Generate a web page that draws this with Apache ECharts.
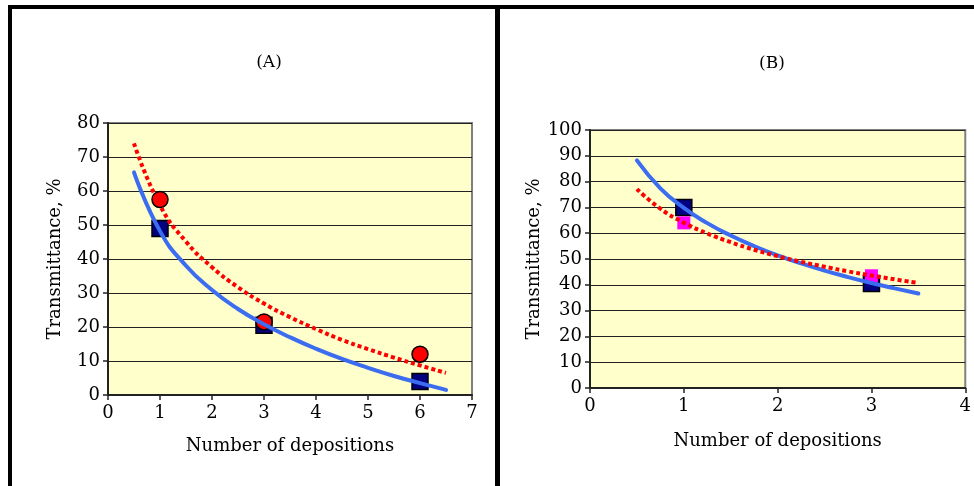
<!DOCTYPE html>
<html><head><meta charset="utf-8">
<script src="https://cdn.jsdelivr.net/npm/echarts@6/dist/echarts.min.js"></script>
<style>html,body{margin:0;padding:0;background:#fff}#c{width:974px;height:486px}</style>
</head><body><div id="c"></div>
<script>
// Panel A data
const A_x = [1, 3, 6];
const A_squares = [49, 20.5, 4];
const A_circles = [57.5, 21.5, 12];
const A_trendX = [0.5, 1, 1.5, 2, 2.5, 3, 3.5, 4, 4.5, 5, 5.5, 6, 6.5];
const A_blueTrend = [65.5, 48.2, 38, 30.9, 25.3, 20.8, 17, 13.6, 10.6, 8, 5.6, 3.5, 1.5];
const A_redTrend = [74, 55.8, 45.1, 37.6, 31.7, 26.9, 22.9, 19.4, 16.2, 13.5, 11, 8.7, 6.5];
// Panel B data
const B_x = [1, 3];
const B_navy = [70, 40.5];
const B_magenta = [64, 43.5];
const B_trendX = [0.5, 0.75, 1, 1.25, 1.5, 1.75, 2, 2.25, 2.5, 2.75, 3, 3.25, 3.5];
const B_blueTrend = [88.2, 77.4, 69.8, 63.9, 59.1, 55, 51.4, 48.3, 45.5, 43, 40.7, 38.6, 36.6];
const B_redTrend = [77.1, 69.5, 64.1, 59.9, 56.5, 53.6, 51.1, 48.9, 47, 45.2, 43.6, 42.1, 40.7];
const titles = ['(A)', '(B)'];
const xName = 'Number of depositions';
const yName = 'Transmittance, %';

const FONT = 'DejaVu Serif';
const zip = (xs, ys) => xs.map((x, i) => [x, ys[i]]);

function xAxis(idx, max, gap) {
  return {
    type: 'value', gridIndex: idx, min: 0, max: max, interval: 1,
    name: xName, nameLocation: 'middle', nameGap: gap,
    nameTextStyle: {fontFamily: FONT, fontSize: 18, color: '#000'},
    axisLine: {show: true, onZero: false, lineStyle: {color: '#222', width: 2}},
    axisTick: {show: true, length: 5, lineStyle: {color: '#222', width: 1.5}},
    axisLabel: {fontFamily: FONT, fontSize: 18, color: '#000', margin: 9},
    splitLine: {show: false}
  };
}
function yAxis(idx, max, gap) {
  return {
    type: 'value', gridIndex: idx, min: 0, max: max, interval: 10,
    name: yName, nameLocation: 'middle', nameGap: gap, nameRotate: 90,
    nameTextStyle: {fontFamily: FONT, fontSize: 18, color: '#000'},
    axisLine: {show: true, onZero: false, lineStyle: {color: '#222', width: 2}},
    axisTick: {show: true, length: 5, lineStyle: {color: '#222', width: 1.5}},
    axisLabel: {fontFamily: FONT, fontSize: 18, color: '#000', margin: 8},
    splitLine: {show: true, lineStyle: {color: '#222', width: 1}}
  };
}
const blueLine = {color: '#3c6cf0', width: 4, cap: 'round'};
const redLine = {color: '#ff0000', width: 4, type: [4, 3], cap: 'butt'};

const option = {
  animation: false,
  backgroundColor: '#fff',
  grid: [
    {left: 108, top: 123, width: 364, height: 272, show: true, backgroundColor: '#ffffcc', borderColor: '#808080', borderWidth: 2},
    {left: 590, top: 130, width: 384, height: 258, show: true, backgroundColor: '#ffffcc', borderColor: '#808080', borderWidth: 2}
  ],
  xAxis: [xAxis(0, 7, 42), xAxis(1, 4, 44)],
  yAxis: [yAxis(0, 80, 44), yAxis(1, 100, 42)],
  series: [
    {type: 'scatter', xAxisIndex: 0, yAxisIndex: 0, symbol: 'rect', symbolSize: 16, z: 2,
     itemStyle: {color: '#000080', borderColor: '#000', borderWidth: 1.5, opacity: 1}, data: zip(A_x, A_squares)},
    {type: 'scatter', xAxisIndex: 0, yAxisIndex: 0, symbol: 'circle', symbolSize: 16, z: 2,
     itemStyle: {color: '#ff0000', borderColor: '#000', borderWidth: 1.5, opacity: 1}, data: zip(A_x, A_circles)},
    {type: 'line', xAxisIndex: 0, yAxisIndex: 0, smooth: true, showSymbol: false, z: 3,
     lineStyle: blueLine, data: zip(A_trendX, A_blueTrend)},
    {type: 'line', xAxisIndex: 0, yAxisIndex: 0, smooth: true, showSymbol: false, z: 4,
     lineStyle: redLine, data: zip(A_trendX, A_redTrend)},
    {type: 'scatter', xAxisIndex: 1, yAxisIndex: 1, symbol: 'rect', symbolSize: 16, z: 2,
     itemStyle: {color: '#000080', borderColor: '#000', borderWidth: 1.5, opacity: 1}, data: zip(B_x, B_navy)},
    {type: 'scatter', xAxisIndex: 1, yAxisIndex: 1, symbol: 'rect', symbolSize: 13, z: 2,
     itemStyle: {color: '#ff00ff', opacity: 1}, data: zip(B_x, B_magenta)},
    {type: 'line', xAxisIndex: 1, yAxisIndex: 1, smooth: true, showSymbol: false, z: 3,
     lineStyle: blueLine, data: zip(B_trendX, B_blueTrend)},
    {type: 'line', xAxisIndex: 1, yAxisIndex: 1, smooth: true, showSymbol: false, z: 4,
     lineStyle: redLine, data: zip(B_trendX, B_redTrend)}
  ],
  graphic: [
    {type: 'rect', shape: {x: 8, y: 5, width: 966, height: 4}, style: {fill: '#000'}, z: 100},
    {type: 'rect', shape: {x: 8, y: 5, width: 4, height: 481}, style: {fill: '#000'}, z: 100},
    {type: 'rect', shape: {x: 495, y: 5, width: 5, height: 481}, style: {fill: '#000'}, z: 100},
    {type: 'text', x: 269, y: 63, style: {text: titles[0], font: '17px "DejaVu Serif"', fill: '#000', textAlign: 'center', textVerticalAlign: 'middle'}},
    {type: 'text', x: 772, y: 64, style: {text: titles[1], font: '17px "DejaVu Serif"', fill: '#000', textAlign: 'center', textVerticalAlign: 'middle'}}
  ]
};
const chart = echarts.init(document.getElementById('c'), null, {renderer: 'canvas'});
chart.setOption(option);
</script>
</body></html>
